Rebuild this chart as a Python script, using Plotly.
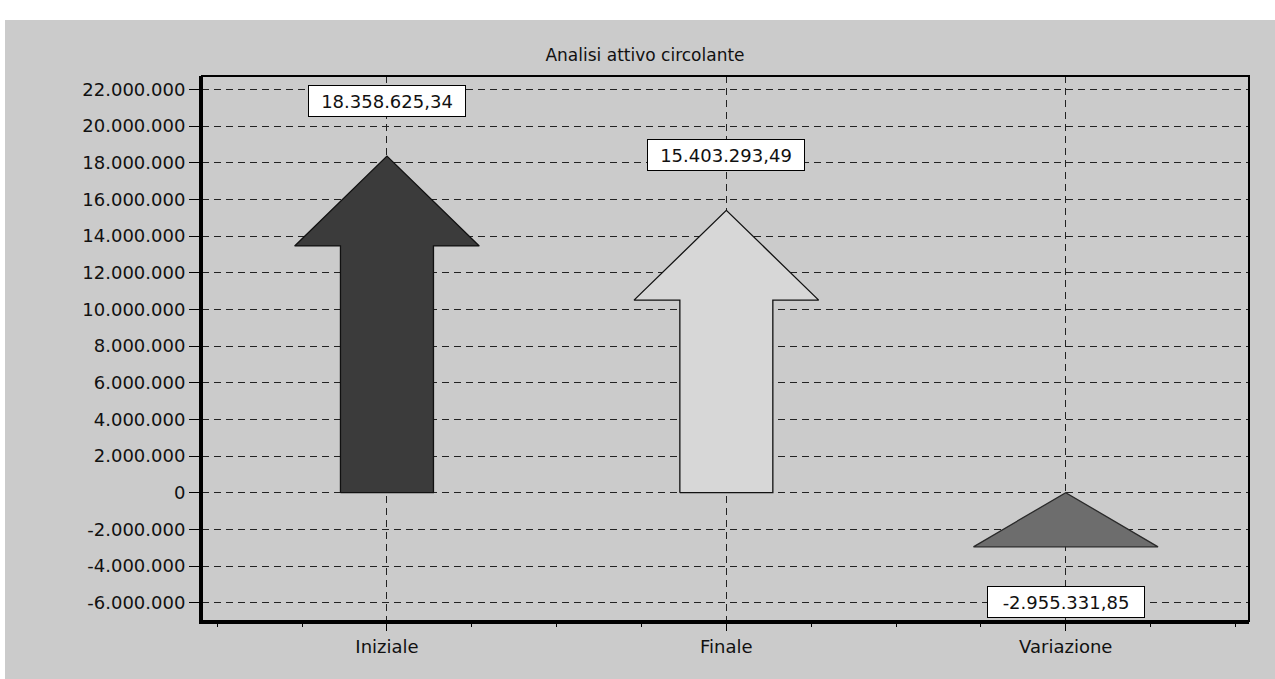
import plotly.graph_objects as go

# Chart data
categories = ["Iniziale", "Finale", "Variazione"]
values = [18358625.34, 15403293.49, -2955331.85]
fill_colors = ["#3b3b3b", "#d7d7d7", "#6d6d6d"]
outline_colors = ["#111111", "#111111", "#2a2a2a"]

y_tick_values = [-6000000, -4000000, -2000000, 0, 2000000, 4000000, 6000000,
                 8000000, 10000000, 12000000, 14000000, 16000000, 18000000,
                 20000000, 22000000]
y_tick_labels = ["-6.000.000", "-4.000.000", "-2.000.000", "0", "2.000.000",
                 "4.000.000", "6.000.000", "8.000.000", "10.000.000",
                 "12.000.000", "14.000.000", "16.000.000", "18.000.000",
                 "20.000.000", "22.000.000"]

# Arrow geometry (in axis units)
HEAD_LEN = 4.9e6
HEAD_HALF = 0.272
SHAFT_HALF = 0.137
LABEL_OFFSET = 3.0e6

FONT = "DejaVu Sans"
BG = "#cbcbcb"

# plot area in pixels
L, R, T, B = 202, 1249, 76, 621
W, H = 1275, 679


def it_number(v):
    s = f"{v:,.2f}"
    return s.replace(",", "X").replace(".", ",").replace("X", ".")


def arrow_polygon(xc, v):
    """Upward-pointing arrow spanning from min(0, v) to max(0, v)."""
    lo, hi = min(0.0, v), max(0.0, v)
    if hi - lo > HEAD_LEN:
        base = hi - HEAD_LEN
        xs = [xc - SHAFT_HALF, xc - SHAFT_HALF, xc - HEAD_HALF, xc,
              xc + HEAD_HALF, xc + SHAFT_HALF, xc + SHAFT_HALF, xc - SHAFT_HALF]
        ys = [lo, base, base, hi, base, base, lo, lo]
    else:
        xs = [xc - HEAD_HALF, xc, xc + HEAD_HALF, xc - HEAD_HALF]
        ys = [lo, hi, lo, lo]
    return xs, ys


fig = go.Figure()

for i, (cat, v) in enumerate(zip(categories, values)):
    xs, ys = arrow_polygon(i, v)
    fig.add_trace(go.Scatter(
        x=xs, y=ys, mode="lines", fill="toself",
        fillcolor=fill_colors[i],
        line=dict(color=outline_colors[i], width=1.3),
        name=cat, showlegend=False, hoverinfo="skip",
    ))
    fig.add_annotation(
        x=i, y=v + (LABEL_OFFSET if v >= 0 else -LABEL_OFFSET),
        xref="x", yref="y", text=it_number(v), showarrow=False,
        bgcolor="#ffffff", bordercolor="#000000", borderwidth=1,
        borderpad=3, width=150, height=24,
        font=dict(family=FONT, size=18, color="#111111"),
    )


def px_x(p):
    return (p - L) / (R - L)


def px_y(p):
    return (B - p) / (B - T)


shapes = [
    # white margin strips along the top and left edge of the sheet
    dict(type="rect", xref="paper", yref="paper",
         x0=px_x(-5), x1=px_x(W + 5), y0=px_y(20), y1=px_y(-5),
         fillcolor="#ffffff", line=dict(width=0), layer="below"),
    dict(type="rect", xref="paper", yref="paper",
         x0=px_x(-5), x1=px_x(5), y0=px_y(H + 5), y1=px_y(-5),
         fillcolor="#ffffff", line=dict(width=0), layer="below"),
    # frame of the plot area
    dict(type="rect", xref="paper", yref="paper", x0=0, x1=1, y0=0, y1=1,
         line=dict(color="#000000", width=2), fillcolor="rgba(0,0,0,0)",
         layer="above"),
]

grid_dash = "7px,5px"

fig.update_layout(
    width=W, height=H,
    margin=dict(l=L, r=W - R, t=T, b=H - B, pad=0),
    paper_bgcolor=BG,
    plot_bgcolor="rgba(0,0,0,0)",
    shapes=shapes,
    showlegend=False,
    title=dict(text="Analisi attivo circolante", x=645 / W, xref="container",
               xanchor="center", y=1 - 55 / H, yref="container",
               yanchor="middle",
               font=dict(family=FONT, size=17, color="#111111")),
    font=dict(family=FONT, color="#111111"),
)

fig.update_xaxes(
    range=[-0.545, 2.54],
    tickmode="array", tickvals=list(range(len(categories))),
    ticktext=categories,
    tickfont=dict(family=FONT, size=18, color="#111111"),
    ticks="outside", ticklen=7, tickcolor="#000000", tickwidth=1,
    showgrid=True, gridcolor="#222222", gridwidth=1, griddash=grid_dash,
    minor=dict(dtick=0.25, tick0=0, ticks="outside", ticklen=3,
               tickcolor="#000000", showgrid=False),
    showline=True, linecolor="#000000", linewidth=3,
    zeroline=False, fixedrange=True,
)

fig.update_yaxes(
    range=[-7.0e6, 22.73e6],
    tickmode="array", tickvals=y_tick_values, ticktext=y_tick_labels,
    tickfont=dict(family=FONT, size=18, color="#111111"),
    ticks="outside", ticklen=10, tickcolor="#000000", tickwidth=1,
    showgrid=True, gridcolor="#222222", gridwidth=1, griddash=grid_dash,
    showline=True, linecolor="#000000", linewidth=3,
    zeroline=False, fixedrange=True,
)

fig.write_html("out.html")
